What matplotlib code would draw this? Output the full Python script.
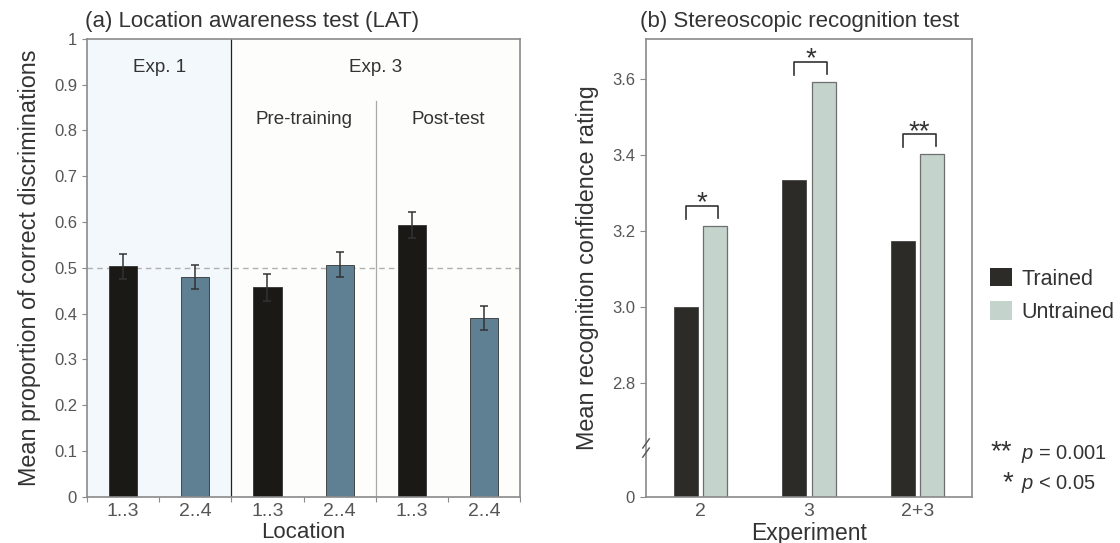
import numpy as np
import matplotlib
matplotlib.use("Agg")
import matplotlib.pyplot as plt
from matplotlib.patches import Rectangle

plt.rcParams['font.family'] = ['Liberation Sans', 'DejaVu Sans']
plt.rcParams['mathtext.fontset'] = 'custom'
plt.rcParams['mathtext.it'] = 'Liberation Sans:italic'
plt.rcParams['mathtext.rm'] = 'Liberation Sans'

# (a) Location awareness test
lat_labels = ["1..3", "2..4", "1..3", "2..4", "1..3", "2..4"]
lat_means = [0.503, 0.480, 0.457, 0.507, 0.594, 0.390]
lat_err = [0.028, 0.027, 0.029, 0.028, 0.028, 0.027]
lat_colors = ["#1b1916", "#5f7f92", "#1b1916", "#5f7f92", "#1b1916", "#5f7f92"]

# (b) Stereoscopic recognition test
experiments = ["2", "3", "2+3"]
trained = [3.00, 3.333, 3.173]
untrained = [3.213, 3.592, 3.402]
stars = ["*", "*", "**"]

fig = plt.figure(figsize=(11.2, 5.43), dpi=100)
txt_col = "#333333"
tick_col = "#555555"
spine_col = "#8a8a8a"

# ---------- panel (a) ----------
ax1 = fig.add_axes([0.0777, 0.0856, 0.3866, 0.8426])
ax1.set_xlim(0, 6)
ax1.set_ylim(0, 1)
ax1.add_patch(Rectangle((0, 0), 2, 1, color="#f3f8fd", zorder=0))
ax1.add_patch(Rectangle((2, 0), 4, 1, color="#fdfdfb", zorder=0))
x = np.arange(len(lat_means)) + 0.5
ax1.bar(x, lat_means, width=0.39, color=lat_colors, edgecolor="#333333", linewidth=0.6, zorder=2)
ax1.errorbar(x, lat_means, yerr=lat_err, fmt="none", ecolor="#333333", elinewidth=1.1,
             capsize=2.8, capthick=1.1, zorder=3)
ax1.axhline(0.5, color="#b0b0b0", linestyle=(0, (4, 3)), linewidth=1, zorder=1)
ax1.axvline(2, color="#222222", linewidth=0.9, zorder=1)
ax1.plot([4, 4], [0, 0.865], color="#aaaaaa", linewidth=0.9, zorder=1)

ax1.text(1, 0.937, "Exp. 1", ha="center", va="center", fontsize=13.5, color=txt_col)
ax1.text(4, 0.937, "Exp. 3", ha="center", va="center", fontsize=13.5, color=txt_col)
ax1.text(3, 0.825, "Pre-training", ha="center", va="center", fontsize=13.5, color=txt_col)
ax1.text(5, 0.825, "Post-test", ha="center", va="center", fontsize=13.5, color=txt_col)

ax1.set_yticks(np.arange(0, 1.01, 0.1))
ax1.set_yticklabels(["0"] + ["%.1f" % v for v in np.arange(0.1, 0.95, 0.1)] + ["1"])
ax1.set_xticks(np.arange(0, 7))
ax1.set_xticklabels([])
ax1.set_xticks(x, minor=True)
ax1.set_xticklabels(lat_labels, minor=True)
ax1.tick_params(axis="x", which="minor", length=0, labelsize=14, colors=tick_col, pad=5)
ax1.tick_params(axis="x", which="major", length=3.6, color=spine_col)
ax1.tick_params(axis="y", length=3.6, color=spine_col, labelsize=12, labelcolor=tick_col, pad=3.6)
for s in ax1.spines.values():
    s.set_color(spine_col)
    s.set_linewidth(1.2)
ax1.set_ylabel("Mean proportion of correct discriminations", fontsize=16.8, color=txt_col, labelpad=9)
ax1.set_xlabel("Location", fontsize=16, color=txt_col, labelpad=1)
fig.text(85 / 1120, 0.9595, "(a) Location awareness test (LAT)", fontsize=16, color=txt_col,
         ha="left", va="center")

# ---------- panel (b) ----------
ax2 = fig.add_axes([0.5768, 0.0856, 0.2911, 0.8426])
ax2.set_xlim(-0.5, 2.5)
ax2.set_ylim(2.5, 3.706)
xe = np.arange(len(experiments))
off = 0.135
ax2.bar(xe - off, np.array(trained) - 2.5, bottom=2.5, width=0.22, color="#2c2b28",
        edgecolor="#444444", linewidth=0.6, label="Trained", zorder=2)
ax2.bar(xe + off, np.array(untrained) - 2.5, bottom=2.5, width=0.22, color="#c4d4cc",
        edgecolor="#6e6e6e", linewidth=0.9, label="Untrained", zorder=2)

for i, st in enumerate(stars):
    top = max(trained[i], untrained[i]) + 0.053
    ax2.plot([xe[i] - off, xe[i] - off, xe[i] + off + 0.03, xe[i] + off + 0.03],
             [top - 0.035, top, top, top - 0.032], color="#333333", linewidth=1.2, zorder=3)
    ax2.text(xe[i] + 0.015, top - 0.012, st, ha="center", va="baseline", fontsize=20, color=txt_col)

ax2.set_yticks([2.5, 2.8, 3.0, 3.2, 3.4, 3.6])
ax2.set_yticklabels(["0", "2.8", "3.0", "3.2", "3.4", "3.6"])
ax2.set_xticks(xe)
ax2.set_xticklabels(experiments)
ax2.tick_params(axis="x", length=0, labelsize=14, colors=tick_col, pad=5)
ax2.tick_params(axis="y", length=4.3, color=spine_col, labelsize=12, labelcolor=tick_col, pad=3.6)
for s in ax2.spines.values():
    s.set_color(spine_col)
    s.set_linewidth(1.2)

# axis break marks
for dy in (-0.01, 0.01):
    ax2.plot([-0.01, 0.01], [0.106 + dy - 0.01, 0.106 + dy + 0.01], transform=ax2.transAxes,
             color="#555555", linewidth=1, clip_on=False, zorder=4)

ax2.set_ylabel("Mean recognition confidence rating", fontsize=16.8, color=txt_col, labelpad=9)
ax2.set_xlabel("Experiment", fontsize=16.5, color=txt_col, labelpad=1)
fig.text(640 / 1120, 0.9595, "(b) Stereoscopic recognition test", fontsize=16, color=txt_col,
         ha="left", va="center")

leg = fig.legend(*ax2.get_legend_handles_labels(), loc="center left",
                 bbox_to_anchor=(990 / 1120, 1 - 295.5 / 543), frameon=False, fontsize=15.5,
                 handlelength=1.0, handleheight=0.93, handletextpad=0.45, labelspacing=0.55,
                 borderpad=0, borderaxespad=0, labelcolor=txt_col)
for h in leg.legend_handles:
    h.set_edgecolor("none")

fig.text(991 / 1120, 1 - 459 / 543, "**", fontsize=20, color=txt_col, ha="left", va="baseline")
fig.text(1021 / 1120, 1 - 459 / 543, "$p$ = 0.001", fontsize=14.5, color=txt_col,
         ha="left", va="baseline")
fig.text(1003 / 1120, 1 - 490 / 543, "*", fontsize=20, color=txt_col, ha="left", va="baseline")
fig.text(1021 / 1120, 1 - 489 / 543, "$p$ < 0.05", fontsize=14.5, color=txt_col,
         ha="left", va="baseline")

fig.savefig("out.png", dpi=100)
